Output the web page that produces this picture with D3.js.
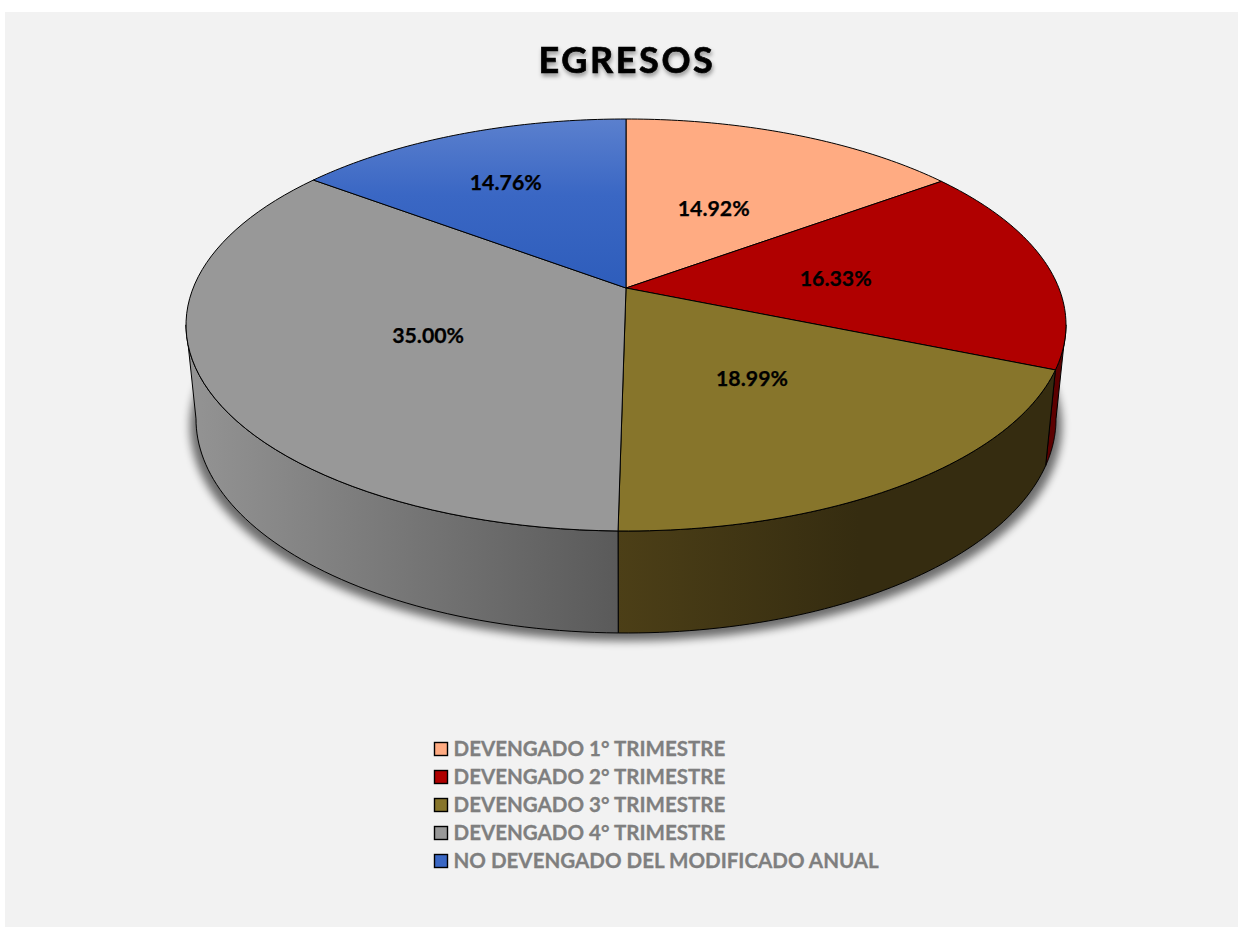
<!DOCTYPE html>
<html><head><meta charset="utf-8">
<script src="https://cdnjs.cloudflare.com/ajax/libs/d3/7.8.5/d3.min.js"></script>
<style>html,body{margin:0;padding:0;background:#fff}svg{display:block}text{font-family:Lato,"Open Sans",sans-serif;font-weight:700}</style>
</head><body><script>
const categories=["DEVENGADO 1° TRIMESTRE","DEVENGADO 2° TRIMESTRE","DEVENGADO 3° TRIMESTRE","DEVENGADO 4° TRIMESTRE","NO DEVENGADO DEL MODIFICADO ANUAL"];
const values=[14.92,16.33,18.99,35.00,14.76];
const topColors=["#FFAB82","#B00000","#87752B","#989898","#3A67C4"];
const wallStart=["#5C0000","#5C0000","#4C3F17","#5A5A5A","#20407F"];
const wallEnd=["#5C0000","#5C0000","#352C10","#949494","#20407F"];
const labelNudgeX=[0.5,5.5,3,-4,-34];
const labelNudgeY=[-1,1,3.5,3.5,-27];

const W=1238,H=927;
const svg=d3.select("body").append("svg").attr("width",W).attr("height",H);
const defs=svg.append("defs");
svg.append("rect").attr("x",5).attr("y",12).attr("width",1233).attr("height",915).attr("fill","#F2F2F2");

const k=-0.1796, cx=626;
const topPlane={cy:325,rx:440,ry:206}, botPlane={cy:419,rx:430,ry:214};
function project(p,theta,r){
  const x=r*Math.sin(theta), y=-r*Math.cos(theta), d=1+k*y;
  const A=p.rx*Math.sqrt(1-k*k), B=p.ry*(1-k*k);
  const apex=(p.cy-p.ry)+p.ry*(1+k);
  return [cx+A*x/d, apex+B*y/d];
}
const deg=Math.PI/180, frontA=100.3*deg, frontB=259.7*deg;
const color=d3.scaleOrdinal(categories,topColors);
const arcs=d3.pie().sort(null).startAngle(0).endAngle(2*Math.PI).value(d=>d)(values);
const line=d3.line();
const samples=(a,b)=>d3.range(0,61).map(i=>a+(b-a)*i/60);

// title
const shTitle=defs.append("filter").attr("id","ts").attr("x","-20%").attr("y","-40%").attr("width","140%").attr("height","190%");
shTitle.append("feDropShadow").attr("dx",1).attr("dy",3).attr("stdDeviation",2).attr("flood-color","#000").attr("flood-opacity",.4);
svg.append("text").attr("x",627).attr("y",73).attr("text-anchor","middle").attr("font-size",36).attr("letter-spacing",2.6).attr("fill","#000").attr("stroke","#000").attr("stroke-width",.7).attr("filter","url(#ts)").text("EGRESOS");

// shadow
const blur=defs.append("filter").attr("id","blur").attr("x","-5%").attr("y","-10%").attr("width","110%").attr("height","120%");
blur.append("feGaussianBlur").attr("stdDeviation",4);
svg.append("ellipse").attr("cx",cx).attr("cy",426).attr("rx",436).attr("ry",215).attr("fill","#000").attr("opacity",.55).attr("filter","url(#blur)");

// walls
arcs.forEach((s,i)=>{
  const a=Math.max(s.startAngle,frontA), b=Math.min(s.endAngle,frontB);
  if(b<=a) return;
  const pts=samples(a,b).map(t=>project(topPlane,t,1)).concat(samples(a,b).reverse().map(t=>project(botPlane,t,1)));
  const xs=d3.extent(pts,p=>p[0]);
  const g=defs.append("linearGradient").attr("id","w"+i).attr("gradientUnits","userSpaceOnUse").attr("x1",xs[1]).attr("x2",xs[0]).attr("y1",0).attr("y2",0);
  if(i===2){
    g.append("stop").attr("offset",0).attr("stop-color",wallEnd[i]);
    g.append("stop").attr("offset",.45).attr("stop-color",wallEnd[i]);
    g.append("stop").attr("offset",1).attr("stop-color",wallStart[i]);
  } else {
    g.append("stop").attr("offset",0).attr("stop-color",wallStart[i]);
    g.append("stop").attr("offset",1).attr("stop-color",wallEnd[i]);
  }
  svg.append("path").attr("d",line(pts)+"Z").attr("fill",`url(#w${i})`).attr("stroke","#000").attr("stroke-width",1).attr("stroke-linejoin","round");
});

// top face
const blueGrad=defs.append("linearGradient").attr("id","blueTop").attr("x1",0).attr("x2",0).attr("y1",0).attr("y2",1);
blueGrad.append("stop").attr("offset",0).attr("stop-color","#5B80CE");
blueGrad.append("stop").attr("offset",.45).attr("stop-color","#3A67C4");
blueGrad.append("stop").attr("offset",1).attr("stop-color","#2E5DBB");
svg.selectAll("path.slice").data(arcs).join("path").attr("class","slice")
  .attr("d",s=>line([project(topPlane,0,0)].concat(samples(s.startAngle,s.endAngle).map(t=>project(topPlane,t,1))))+"Z")
  .attr("fill",(s,i)=>i===4?"url(#blueTop)":color(categories[i]))
  .attr("stroke","#000").attr("stroke-width",1).attr("stroke-linejoin","round");

// data labels
svg.selectAll("text.lab").data(arcs).join("text").attr("class","lab")
  .attr("text-anchor","middle").attr("dominant-baseline","central").attr("font-size",21.3).attr("fill","#000").attr("stroke","#000").attr("stroke-width",.25)
  .attr("x",(s,i)=>project(topPlane,(s.startAngle+s.endAngle)/2,.48)[0]+labelNudgeX[i])
  .attr("y",(s,i)=>project(topPlane,(s.startAngle+s.endAngle)/2,.48)[1]+labelNudgeY[i])
  .text(s=>s.value.toFixed(2)+"%");

// legend
const ly=d3.scalePoint().domain(categories).range([749,861]);
const leg=svg.selectAll("g.leg").data(categories).join("g").attr("class","leg").attr("transform",d=>`translate(434,${ly(d)})`);
leg.append("rect").attr("x",.5).attr("y",-6.5).attr("width",13).attr("height",13).attr("fill",d=>color(d)).attr("stroke","#000").attr("stroke-width",1.4);
leg.append("text").attr("x",19.5).attr("y",7.2).attr("font-size",20.55).attr("fill","#7F7F7F").attr("stroke","#7F7F7F").attr("stroke-width",.3).text(d=>d);
</script></body></html>
